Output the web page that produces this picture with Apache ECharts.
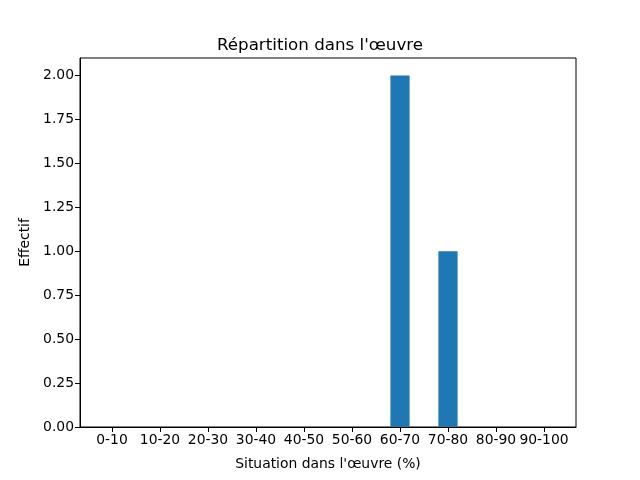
<!DOCTYPE html>
<html>
<head>
<meta charset="utf-8">
<script src="https://cdn.jsdelivr.net/npm/echarts@6/dist/echarts.min.js"></script>
<style>html,body{margin:0;padding:0;background:#fff}#c{width:640px;height:480px}</style>
</head>
<body>
<div id="c"></div>
<script>
const categories = ["0-10","10-20","20-30","30-40","40-50","50-60","60-70","70-80","80-90","90-100"];
const counts = [0,0,0,0,0,0,2,1,0,0];
const yTicks = [0,0.25,0.5,0.75,1.0,1.25,1.5,1.75,2.0];
const titleText = "Répartition dans l'œuvre";
const xLabel = "Situation dans l'œuvre (%)";
const yLabel = "Effectif";

const font = "DejaVu Sans";
const chart = echarts.init(document.getElementById('c'), null, {renderer:'canvas'});
const xIdx = categories.map((_, i) => i);
chart.setOption({
  animation: false,
  backgroundColor: '#fff',
  title: {
    text: titleText, left: 'center', top: 32,
    textStyle: {fontFamily: font, fontSize: 16.7, fontWeight: 'normal', color: '#000'}
  },
  grid: {left: 80, right: 64, top: 58, bottom: 53, show: true, borderColor: '#000', borderWidth: 1, backgroundColor: 'transparent'},
  xAxis: {
    type: 'value', min: -0.667, max: 9.667,
    name: xLabel, nameLocation: 'middle', nameGap: 30,
    nameTextStyle: {fontFamily: font, fontSize: 13.9, color: '#000'},
    axisLine: {show: true, onZero: false, lineStyle: {color: '#000', width: 1}},
    axisTick: {show: true, length: 5, lineStyle: {color: '#000'}, customValues: xIdx},
    axisLabel: {fontFamily: font, fontSize: 13.9, color: '#000', margin: 6, customValues: xIdx,
      formatter: v => categories[Math.round(v)]},
    splitLine: {show: false}
  },
  yAxis: {
    type: 'value', min: 0, max: 2.1,
    name: yLabel, nameLocation: 'middle', nameGap: 46, nameRotate: 90,
    nameTextStyle: {fontFamily: font, fontSize: 13.9, color: '#000'},
    axisLine: {show: true, onZero: false, lineStyle: {color: '#000', width: 1}},
    axisTick: {show: true, length: 5, lineStyle: {color: '#000'}, customValues: yTicks},
    axisLabel: {fontFamily: font, fontSize: 13.9, color: '#000', margin: 6, customValues: yTicks,
      formatter: v => v.toFixed(2)},
    splitLine: {show: false}
  },
  series: [{
    type: 'bar',
    data: counts.map((v, i) => [i, v]),
    barWidth: 19.2,
    itemStyle: {color: '#1f77b4', borderWidth: 0}
  }]
});
</script>
</body>
</html>
